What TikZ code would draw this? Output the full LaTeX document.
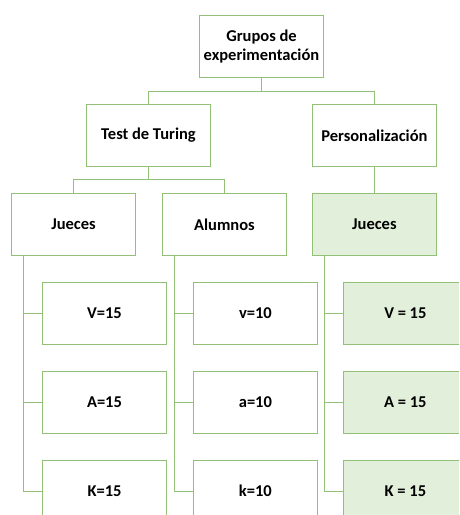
\documentclass[tikz,border=0pt]{standalone}
\usepackage{fontspec}
\setmainfont{Carlito}
\usepackage{tikz}
\usetikzlibrary{positioning}

\definecolor{boxline}{RGB}{145,192,118}
\definecolor{boxfill}{RGB}{226,239,218}

\begin{document}
\begin{tikzpicture}[
  node distance=26pt and 26pt,
  mynode/.style={draw=boxline,line width=0.9pt,fill=white,minimum width=124pt,minimum height=62pt,align=center,font=\bfseries\fontsize{16.5}{19}\selectfont},
  greennode/.style={mynode,fill=boxfill},
  link/.style={draw=boxline,line width=0.9pt}
]
\clip (0,0) rectangle (459pt,-515pt);
\node[mynode] (g) at (261.5pt,-46.5pt) {Grupos de\\experimentación};
\node[mynode,below=of g,xshift=-113pt] (t) {Test de Turing};
\node[mynode,right=101pt of t] (p) {Personalización};
\node[mynode,below=of t,xshift=-75pt] (j) {Jueces};
\node[mynode,right=of j] (al) {Alumnos};
\node[greennode,below=of p] (pj) {Jueces};

\node[mynode,below=of j,xshift=31pt] (jv) {V=15};
\node[mynode,below=of jv] (ja) {A=15};
\node[mynode,below=of ja] (jk) {K=15};
\node[mynode,below=of al,xshift=31pt] (av) {v=10};
\node[mynode,below=of av] (aa) {a=10};
\node[mynode,below=of aa] (ak) {k=10};
\node[greennode,below=of pj,xshift=31pt] (pv) {V = 15};
\node[greennode,below=of pv] (pa) {A = 15};
\node[greennode,below=of pa] (pk) {K = 15};

\draw[link] (g.south) -- ++(0,-13pt) -| (t.north);
\draw[link] (g.south) -- ++(0,-13pt) -| (p.north);
\draw[link] (t.south) -- ++(0,-13pt) -| (j.north);
\draw[link] (t.south) -- ++(0,-13pt) -| (al.north);
\draw[link] (p.south) -- (pj.north);

\foreach \n in {jv,ja,jk}
  \draw[link] ([xshift=12pt]j.south west) |- (\n.west);
\foreach \n in {av,aa,ak}
  \draw[link] ([xshift=12pt]al.south west) |- (\n.west);
\foreach \n in {pv,pa,pk}
  \draw[link] ([xshift=12pt]pj.south west) |- (\n.west);
\end{tikzpicture}
\end{document}
